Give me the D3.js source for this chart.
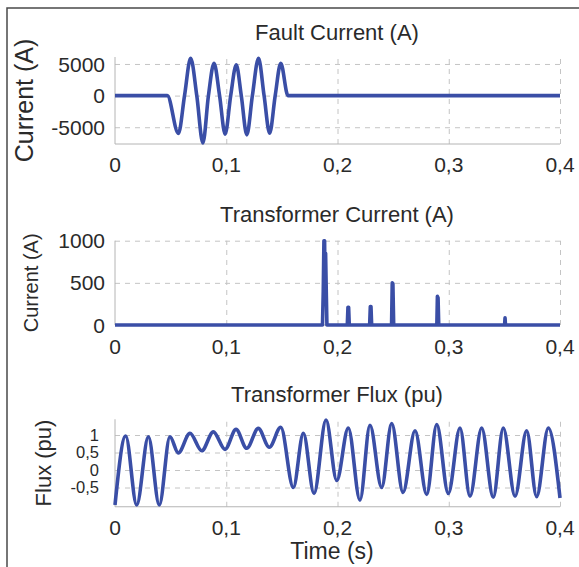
<!DOCTYPE html>
<html>
<head>
<meta charset="utf-8">
<script src="https://cdn.jsdelivr.net/npm/d3@7"></script>
<style>
body{margin:0;background:#fff}
svg{display:block;font-family:"Liberation Sans",Arial,sans-serif}
</style>
</head>
<body>
<div id="graph"></div>
<script>
// time axis
var xTicks = [0, 0.1, 0.2, 0.3, 0.4];
var xTickLabels = ["0", "0,1", "0,2", "0,3", "0,4"];

// fault current (A)
var faultTime = [0, 0.047, 0.057, 0.0625, 0.068, 0.0735, 0.079, 0.084, 0.089, 0.094, 0.099, 0.104,
    0.109, 0.1135, 0.1185, 0.1235, 0.129, 0.134, 0.139, 0.144, 0.149, 0.1555, 0.4];
var faultAmps = [0, 0, -6000, 0, 5900, 0, -7500, 0, 5100, 0, -6100, 0,
    4850, 0, -6200, 0, 5900, 0, -5950, 0, 5100, 0, 0];
var faultTicks = [-5000, 0, 5000];
var faultTickLabels = ["-5000", "0", "5000"];

// transformer current (A)
var trafoTime = [0, 0.1865, 0.1872, 0.1878, 0.1884, 0.1888, 0.1893, 0.1899, 0.1905,
    0.2088, 0.2094, 0.21, 0.2106,
    0.2289, 0.2295, 0.2301, 0.2307,
    0.2486, 0.2492, 0.2498, 0.2505,
    0.2893, 0.2898, 0.2904, 0.291,
    0.3502, 0.3506, 0.351, 0.4];
var trafoAmps = [0, 0, 400, 1000, 1000, 450, 850, 400, 0,
    0, 210, 210, 0,
    0, 220, 220, 0,
    0, 500, 490, 0,
    0, 340, 320, 0,
    0, 85, 0, 0];
var trafoTicks = [0, 500, 1000];
var trafoTickLabels = ["0", "500", "1000"];

// transformer flux (pu)
var fluxTime = [0, 0.0096, 0.0195, 0.03, 0.0398, 0.0494, 0.0569, 0.0674, 0.078, 0.0884, 0.0989,
    0.1088, 0.1184, 0.1288, 0.1387, 0.149, 0.1603, 0.1693, 0.1789, 0.1897, 0.1993,
    0.2097, 0.2202, 0.2292, 0.2397, 0.2487, 0.2589, 0.2697, 0.2802, 0.2892, 0.2996,
    0.3101, 0.3191, 0.3296, 0.34, 0.349, 0.3596, 0.37, 0.379, 0.3895, 0.4];
var fluxPu = [-1.0, 0.97, -1.0, 0.95, -1.0, 0.95, 0.49, 1.05, 0.55, 1.09, 0.59,
    1.16, 0.62, 1.19, 0.65, 1.22, -0.5, 1.05, -0.67, 1.43, -0.3,
    1.2, -0.86, 1.28, -0.5, 1.33, -0.64, 1.12, -0.7, 1.3, -0.67,
    1.2, -0.75, 1.2, -0.78, 1.2, -0.75, 1.12, -0.76, 1.2, -0.8];
var fluxTicks = [-0.5, 0, 0.5, 1];
var fluxTickLabels = ["-0,5", "0", "0,5", "1"];

var svgWidth = 579;
var svgHeight = 567;
var lineColor = "#3a4ea6";
var gridColor = "#c4c4c4";
var axisColor = "#b4b4b4";
var textColor = "#2a2a2a";

var $svg = d3.select("#graph")
    .append("svg")
    .attr("width", svgWidth)
    .attr("height", svgHeight);

$svg.append("rect").attr("width", svgWidth).attr("height", svgHeight).attr("fill", "#fff");

// frame
$svg.append("path")
    .attr("d", `M7,${svgHeight} V8 H${svgWidth}`)
    .attr("fill", "none")
    .attr("stroke", "#4a4a4a")
    .attr("stroke-width", 1.5);

var x = d3.scaleLinear().domain([0, 0.4]).range([115, 560]);

var panels = [
    {title: "Fault Current (A)", titleY: 32, ylabel: "Current (A)", ylabelX: 24, ylabelSize: 25,
     time: faultTime, vals: faultAmps, domain: [-7650, 6100], top: 57, bottom: 144,
     ticks: faultTicks, tickLabels: faultTickLabels, tickX: 105, tickSize: 21, xLabelY: 164, curve: d3.curveMonotoneX},
    {title: "Transformer Current (A)", titleY: 214, ylabel: "Current (A)", ylabelX: 31, ylabelSize: 20,
     time: trafoTime, vals: trafoAmps, domain: [0, 1000], top: 240.7, bottom: 325,
     ticks: trafoTicks, tickLabels: trafoTickLabels, tickX: 105, tickSize: 21, xLabelY: 346, curve: d3.curveLinear},
    {title: "Transformer Flux (pu)", titleY: 394, ylabel: "Flux (pu)", ylabelX: 43, ylabelSize: 22,
     time: fluxTime, vals: fluxPu, domain: [-1.05, 1.45], top: 419.25, bottom: 506.75,
     ticks: fluxTicks, tickLabels: fluxTickLabels, tickX: 99, tickSize: 16.5, xLabelY: 527, curve: d3.curveMonotoneX}
];

panels.forEach(p => {
    var y = d3.scaleLinear().domain(p.domain).range([p.bottom, p.top]);
    var $g = $svg.append("g");

    // grid
    $g.append("g")
        .attr("transform", `translate(0,${p.bottom})`)
        .call(d3.axisBottom(x).tickValues(xTicks.slice(1)).tickSize(-(p.bottom - p.top)).tickFormat(""))
        .call(g => g.select(".domain").remove())
        .selectAll("line")
        .attr("stroke", gridColor)
        .attr("stroke-dasharray", "5,5");
    $g.append("g")
        .attr("transform", `translate(${x(0)},0)`)
        .call(d3.axisLeft(y).tickValues(p.ticks).tickSize(-(x(0.4) - x(0))).tickFormat(""))
        .call(g => g.select(".domain").remove())
        .selectAll("line")
        .attr("stroke", gridColor)
        .attr("stroke-dasharray", "5,5");

    // axis lines
    $g.append("path")
        .attr("d", `M${x(0)},${p.top} V${p.bottom} H${x(0.4)}`)
        .attr("fill", "none")
        .attr("stroke", axisColor)
        .attr("stroke-width", 1);

    // data
    var line = d3.line()
        .x((d, i) => x(p.time[i]))
        .y(d => y(d))
        .curve(p.curve);
    $g.append("path")
        .attr("d", line(p.vals))
        .attr("fill", "none")
        .attr("stroke", lineColor)
        .attr("stroke-width", 3.6)
        .attr("stroke-linejoin", "round");

    // y tick labels
    $g.selectAll(".ytick")
        .data(p.ticks)
        .enter().append("text")
        .attr("x", p.tickX)
        .attr("y", d => y(d))
        .attr("dy", "0.36em")
        .attr("text-anchor", "end")
        .attr("font-size", p.tickSize)
        .attr("fill", textColor)
        .text((d, i) => p.tickLabels[i]);

    // x tick labels
    $g.selectAll(".xtick")
        .data(xTicks)
        .enter().append("text")
        .attr("x", d => x(d))
        .attr("y", p.xLabelY)
        .attr("dy", "0.36em")
        .attr("text-anchor", "middle")
        .attr("font-size", 21)
        .attr("fill", textColor)
        .text((d, i) => xTickLabels[i]);

    // title
    $g.append("text")
        .attr("x", 337)
        .attr("y", p.titleY)
        .attr("dy", "0.36em")
        .attr("text-anchor", "middle")
        .attr("font-size", 22)
        .attr("fill", textColor)
        .text(p.title);

    // y label
    var cy = (p.top + p.bottom) / 2;
    $g.append("text")
        .attr("transform", `translate(${p.ylabelX},${cy}) rotate(-90)`)
        .attr("dy", "0.36em")
        .attr("text-anchor", "middle")
        .attr("font-size", p.ylabelSize)
        .attr("fill", textColor)
        .text(p.ylabel);
});

$svg.append("text")
    .attr("x", 332)
    .attr("y", 551)
    .attr("dy", "0.36em")
    .attr("text-anchor", "middle")
    .attr("font-size", 23)
    .attr("fill", textColor)
    .text("Time (s)");
</script>
</body>
</html>
